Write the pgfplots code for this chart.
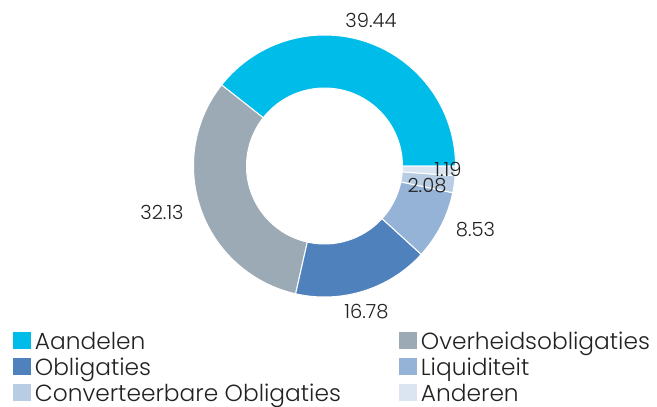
\documentclass[border=0pt]{standalone}
\usepackage{pgfplots}
\pgfplotsset{compat=1.18}
\usepackage{pgfplotstable}
\usepackage{fontspec}
\setmainfont{Poppins}[UprightFont=* Light]
\definecolor{cA}{HTML}{00BCE8}
\definecolor{cB}{HTML}{9BAAB4}
\definecolor{cC}{HTML}{4F81BD}
\definecolor{cD}{HTML}{95B3D7}
\definecolor{cE}{HTML}{B8CCE4}
\definecolor{cF}{HTML}{DBE5F1}
\definecolor{txt}{HTML}{222222}
\pgfplotstableread[col sep=comma]{
label,value,color
Aandelen,39.44,cA
Overheidsobligaties,32.13,cB
Obligaties,16.78,cC
Liquiditeit,8.53,cD
Converteerbare Obligaties,2.08,cE
Anderen,1.19,cF
}\piedata
\begin{document}
\begin{tikzpicture}
\pgfplotstablegetrowsof{\piedata}
\pgfmathtruncatemacro\lastrow{\pgfplotsretval-1}
\def\total{0}
\pgfplotsforeachungrouped \i in {0,...,\lastrow}{%
  \pgfplotstablegetelem{\i}{value}\of\piedata
  \pgfmathsetmacro\total{\total+\pgfplotsretval}%
}
\def\cum{0}
\gdef\sectors{}
\pgfplotsforeachungrouped \i in {0,...,\lastrow}{%
  \pgfplotstablegetelem{\i}{value}\of\piedata \let\val\pgfplotsretval
  \pgfplotstablegetelem{\i}{color}\of\piedata \let\col\pgfplotsretval
  \pgfmathsetmacro\angA{\cum/\total*360}%
  \pgfmathsetmacro\cum{\cum+\val}%
  \pgfmathsetmacro\angB{\cum/\total*360}%
  \xdef\sectors{\unexpanded\expandafter{\sectors}\noexpand\fill[\col, draw=white, line width=1bp] (axis cs:324.5,166) ++(\angA:131bp) arc[start angle=\angA, end angle=\angB, radius=131bp] -- ++(\angB:-53bp) arc[start angle=\angB, end angle=\angA, radius=78bp] -- cycle;}%
}
\begin{axis}[name=ax, x=1bp, y=1bp, xmin=0, xmax=657, ymin=0, ymax=406, y dir=reverse,
  hide axis, clip=false]
\sectors
% data labels
\begin{scope}[every node/.style={font=\fontsize{19.5bp}{23bp}\selectfont, text=txt, inner sep=0pt}]
\node[anchor=base] at (axis cs:371,27) {39.44};
\node[anchor=base] at (axis cs:162,219) {32.13};
\node[anchor=base] at (axis cs:366.5,318.3) {16.78};
\node[anchor=base] at (axis cs:475.5,236) {8.53};
\node[anchor=base] at (axis cs:427,192.7) {2.08};
\node[anchor=base] at (axis cs:448,176) {1.19};
\end{scope}
% legend
\begin{scope}[every node/.style={font=\fontsize{23.3bp}{27bp}\selectfont, text=txt, inner sep=0pt, anchor=base west}]
\fill[cA] (axis cs:13,332) rectangle (axis cs:31,349);
\node at (axis cs:34.7,349) {Aandelen};
\fill[cC] (axis cs:13,358) rectangle (axis cs:31,375);
\node at (axis cs:34.7,375.5) {Obligaties};
\fill[cE] (axis cs:13,384) rectangle (axis cs:31,401);
\node at (axis cs:34.7,401.5) {Converteerbare Obligaties};
\fill[cB] (axis cs:399,332) rectangle (axis cs:417,349);
\node at (axis cs:420.7,349) {Overheidsobligaties};
\fill[cD] (axis cs:399,358) rectangle (axis cs:417,375);
\node at (axis cs:420.7,375.5) {Liquiditeit};
\fill[cF] (axis cs:399,384) rectangle (axis cs:417,401);
\node at (axis cs:420.7,401.5) {Anderen};
\end{scope}
\end{axis}
\pgfresetboundingbox
\path[use as bounding box] (ax.south west) rectangle (ax.north east);
\end{tikzpicture}
\end{document}
